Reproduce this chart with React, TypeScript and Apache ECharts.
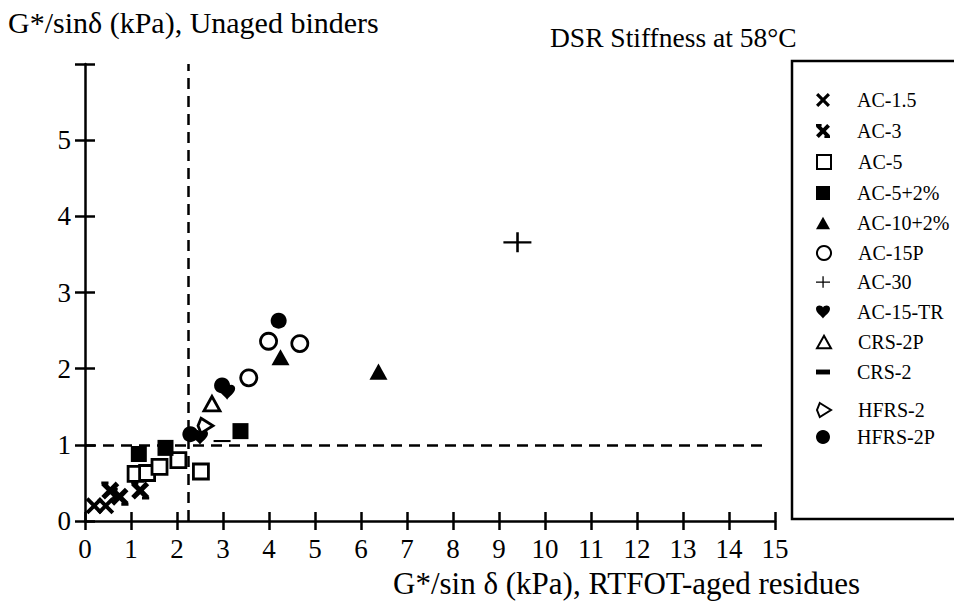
import React, { useEffect, useRef } from "react";
import * as echarts from "echarts";

const seriesNames = [
  "AC-1.5", "AC-3", "AC-5", "AC-5+2%", "AC-10+2%", "AC-15P",
  "AC-30", "AC-15-TR", "CRS-2P", "CRS-2", "HFRS-2", "HFRS-2P",
];

const ac15 = [[0.2, 0.2], [0.45, 0.2]];
const ac3 = [[0.55, 0.4], [0.75, 0.32], [1.2, 0.4]];
const ac5 = [[1.1, 0.62], [1.35, 0.63], [1.62, 0.71], [2.03, 0.8], [2.52, 0.65]];
const ac5p2 = [[1.17, 0.88], [1.75, 0.96], [3.38, 1.18]];
const ac10p2 = [[4.25, 2.15], [6.38, 1.96]];
const ac15p = [[3.56, 1.88], [3.99, 2.36], [4.67, 2.33]];
const ac30 = [[9.4, 3.66]];
const ac15tr = [[2.5, 1.1], [3.09, 1.69]];
const crs2p = [[2.76, 1.54]];
const crs2 = [[2.98, 1.05]];
const hfrs2 = [[2.62, 1.25]];
const hfrs2p = [[2.29, 1.14], [2.98, 1.78], [4.21, 2.63]];

const xTicks = [0, 15, 1];
const yTicks = [0, 6, 1];
const vLimit = 2.25;
const hLimit = 1;
const hLimitEnd = 14.8;

const legendRowY = [97, 128, 159, 190, 220, 250, 279, 309, 339, 369, 407, 434];

const FONT = "'Liberation Serif', 'Times New Roman', serif";

const P = {
  xThin: "path://M0,1.6 L1.6,0 L5,3.4 L8.4,0 L10,1.6 L6.6,5 L10,8.4 L8.4,10 L5,6.6 L1.6,10 L0,8.4 L3.4,5 Z",
  xBold: "path://M0,2 L2,0 L5,3 L8,0 L10,2 L7,5 L10,8 L8,10 L5,7 L2,10 L0,8 L3,5 Z M0,0 L4,0 L4,1.6 L0,1.6 Z M6,8.4 L10,8.4 L10,10 L6,10 Z",
  square: "path://M0,0 L10,0 L10,10 L0,10 Z",
  triangle: "path://M5,0 L10,9 L0,9 Z",
  circle: "path://M5,0 A5,5 0 1 1 4.999,0 Z",
  plus: "path://M0,4.5 L12,4.5 L12,5.6 L0,5.6 Z M5.5,0 L6.6,0 L6.6,10 L5.5,10 Z",
  heart: "path://M0,3 C0,0 4,0 5,2 C6,0 10,0 10,3 C10,6 6,8 5,10 C4,8 0,6 0,3 Z",
  dash: "path://M0,0 L10,0 L10,3.5 L0,3.5 Z",
  diamond: "path://M2,0 L10,5 L2,10 L0,5 Z",
};

const filled = { color: "#000", opacity: 1 };
const open = { color: "#fff", borderColor: "#000", borderWidth: 2.8, opacity: 1 };

export default function App() {
  const ref = useRef<HTMLDivElement>(null);
  useEffect(() => {
    if (!ref.current) return;
    const chart = echarts.init(ref.current, undefined, { renderer: "svg" });

    const defs: any[] = [
      { name: seriesNames[0], data: ac15, symbol: P.xThin, symbolSize: 17, itemStyle: filled },
      { name: seriesNames[1], data: ac3, symbol: P.xBold, symbolSize: 18, itemStyle: filled },
      { name: seriesNames[2], data: ac5, symbol: P.square, symbolSize: 15, itemStyle: open },
      { name: seriesNames[3], data: ac5p2, symbol: P.square, symbolSize: 16, itemStyle: filled },
      { name: seriesNames[4], data: ac10p2, symbol: P.triangle, symbolSize: 18, itemStyle: filled },
      { name: seriesNames[5], data: ac15p, symbol: P.circle, symbolSize: 16, itemStyle: open },
      { name: seriesNames[6], data: ac30, symbol: P.plus, symbolSize: [28, 24], itemStyle: filled },
      { name: seriesNames[7], data: ac15tr, symbol: P.heart, symbolSize: 16, itemStyle: filled },
      { name: seriesNames[8], data: crs2p, symbol: P.triangle, symbolSize: 16, itemStyle: open },
      { name: seriesNames[9], data: crs2, symbol: P.dash, symbolSize: [17, 6], itemStyle: filled },
      { name: seriesNames[10], data: hfrs2, symbol: P.diamond, symbolSize: 15, itemStyle: open },
      { name: seriesNames[11], data: hfrs2p, symbol: P.circle, symbolSize: 16, itemStyle: filled },
    ];

    const series: any[] = defs.map((d) => ({
      type: "scatter",
      xAxisIndex: 0,
      yAxisIndex: 0,
      symbolKeepAspect: true,
      ...d,
    }));

    series[0].markLine = {
      silent: true,
      symbol: "none",
      label: { show: false },
      lineStyle: { color: "#000", width: 2.5, type: [11, 7], opacity: 1 },
      data: [
        { xAxis: vLimit },
        [{ coord: [0, hLimit] }, { coord: [hLimitEnd, hLimit] }],
      ],
    };

    const legends = seriesNames.map((n, i) => ({
      data: [n],
      orient: "vertical",
      left: 816,
      top: legendRowY[i] - 7,
      itemWidth: 14,
      itemHeight: 14,
      symbolKeepAspect: true,
      padding: 0,
      textStyle: { fontFamily: FONT, fontSize: 20, color: "#000", padding: [0, 0, 0, 22] },
      selectedMode: false,
    }));

    const axisCommon = {
      type: "value",
      splitLine: { show: false },
    };

    chart.setOption({
      animation: false,
      backgroundColor: "#fff",
      grid: { left: 85, right: 179, top: 64, bottom: 92, containLabel: false },
      xAxis: [
        {
          ...axisCommon,
          min: xTicks[0], max: xTicks[1], interval: xTicks[2],
          position: "bottom",
          axisLine: { show: true, lineStyle: { color: "#000", width: 2.5 } },
          axisTick: { show: true, inside: false, length: 9, lineStyle: { color: "#000", width: 2.5 } },
          axisLabel: { fontFamily: FONT, fontSize: 27, color: "#000", margin: 14 },
        },
        {
          ...axisCommon,
          min: xTicks[0], max: xTicks[1], interval: xTicks[2],
          position: "bottom",
          axisLine: { show: false },
          axisTick: { show: true, inside: true, length: 9, lineStyle: { color: "#000", width: 2.5 } },
          axisLabel: { show: false },
        },
      ],
      yAxis: [
        {
          ...axisCommon,
          min: yTicks[0], max: yTicks[1], interval: yTicks[2],
          position: "left",
          axisLine: { show: true, lineStyle: { color: "#000", width: 2.5 } },
          axisTick: { show: true, inside: false, length: 10, lineStyle: { color: "#000", width: 2.5 } },
          axisLabel: {
            fontFamily: FONT, fontSize: 27, color: "#000", margin: 14,
            formatter: (v: number) => (v === yTicks[1] ? "" : String(v)),
          },
        },
        {
          ...axisCommon,
          min: yTicks[0], max: yTicks[1], interval: yTicks[2],
          position: "left",
          axisLine: { show: false },
          axisTick: { show: true, inside: true, length: 10, lineStyle: { color: "#000", width: 2.5 } },
          axisLabel: { show: false },
        },
      ],
      legend: legends,
      graphic: [
        {
          type: "rect",
          shape: { x: 792, y: 61, width: 200, height: 458 },
          style: { fill: "none", stroke: "#000", lineWidth: 2.5 },
          z: -1,
        },
        {
          type: "text",
          x: 8, y: 22,
          style: { text: "G*/sinδ (kPa), Unaged binders", font: `30px ${FONT}`, fill: "#000", verticalAlign: "middle" },
        },
        {
          type: "text",
          x: 550, y: 37,
          style: { text: "DSR Stiffness at 58°C", font: `27.5px ${FONT}`, fill: "#000", verticalAlign: "middle" },
        },
        {
          type: "text",
          x: 393, y: 583,
          style: { text: "G*/sin δ (kPa), RTFOT-aged residues", font: `31px ${FONT}`, fill: "#000", verticalAlign: "middle" },
        },
      ],
      series,
    });
    return () => chart.dispose();
  }, []);
  return (
    <div
      ref={ref}
      style={{ position: "absolute", left: 0, top: 0, width: 954, height: 613 }}
    />
  );
}
